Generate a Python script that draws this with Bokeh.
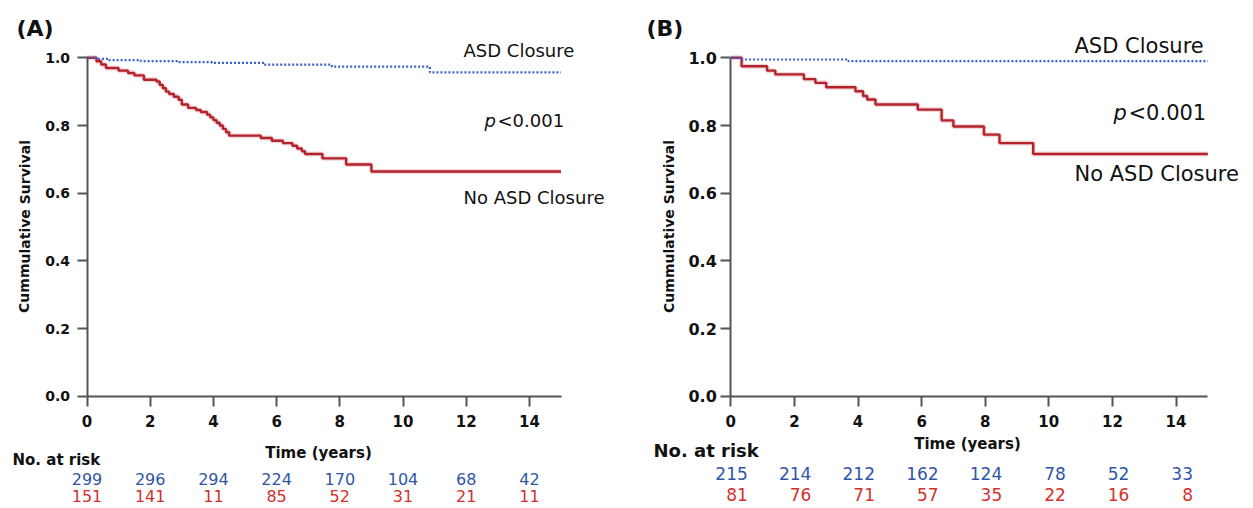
from bokeh.plotting import figure
from bokeh.layouts import row
from bokeh.models import Range1d, FixedTicker, Label, PrintfTickFormatter
from bokeh.embed import file_html
from bokeh.resources import INLINE

# ---------------- data ----------------
risk_times = [0, 2, 4, 6, 8, 10, 12, 14]

# Panel A
a_closure_t = [0, 0.3, 0.7, 1.7, 2.85, 3.95, 5.6, 7.75, 10.85, 15]
a_closure_s = [1.0, 0.997, 0.993, 0.99, 0.987, 0.985, 0.98, 0.974, 0.957, 0.957]
a_noclos_t = [0, 0.3, 0.45, 0.6, 1.0, 1.3, 1.5, 1.8, 2.2, 2.3, 2.4, 2.5, 2.6, 2.75,
              2.9, 3.0, 3.2, 3.45, 3.6, 3.8, 3.9, 4.0, 4.1, 4.2, 4.3, 4.4, 4.5, 5.5,
              5.85, 6.2, 6.5, 6.65, 6.8, 6.9, 7.45, 8.2, 9.0, 15]
a_noclos_s = [1.0, 0.99, 0.98, 0.97, 0.962, 0.955, 0.948, 0.935, 0.93, 0.92, 0.91, 0.90,
              0.893, 0.885, 0.876, 0.862, 0.852, 0.846, 0.84, 0.832, 0.824, 0.816, 0.808,
              0.80, 0.79, 0.78, 0.77, 0.763, 0.755, 0.748, 0.74, 0.732, 0.724, 0.716,
              0.703, 0.685, 0.664, 0.664]
a_risk_closure = ["299", "296", "294", "224", "170", "104", "68", "42"]
a_risk_noclos = ["151", "141", "11", "85", "52", "31", "21", "11"]

# Panel B
b_closure_t = [0, 0.3, 3.7, 15]
b_closure_s = [1.0, 0.995, 0.99, 0.99]
b_noclos_t = [0, 0.34, 1.14, 1.4, 2.3, 2.66, 3.0, 3.92, 4.16, 4.29, 4.55, 5.88, 6.63,
              7.0, 7.96, 8.45, 9.51, 15]
b_noclos_s = [1.0, 0.975, 0.962, 0.951, 0.937, 0.926, 0.913, 0.901, 0.887, 0.877, 0.862,
              0.847, 0.815, 0.797, 0.773, 0.748, 0.716, 0.716]
b_risk_closure = ["215", "214", "212", "162", "124", "78", "52", "33"]
b_risk_noclos = ["81", "76", "71", "57", "35", "22", "16", "8"]

txt = {"closure": "ASD Closure", "noclos": "No ASD Closure", "p": "p", "pval": "<0.001",
       "nar": "No. at risk", "xlab": "Time (years)", "ylab": "Cummulative Survival"}

FONT = "DejaVu Sans"
BLUE_LINE = "#3b5fc9"
RED_LINE = "#b3232b"
BLUE_TXT = "#2f56a6"
RED_TXT = "#d3302c"
AXIS = "#555555"
INK = "#111111"

H = 508
Y0_PAGE = 395.8     # page y of survival 0
Y_SCALE = 338.5     # px per unit survival


def ydat(py):
    return (Y0_PAGE - py) / Y_SCALE


def make_panel(tag, page_left, width, x0_page, k, t1, s1, t2, s2, risk1, risk2, c):
    def xdat(px):
        return (px - x0_page) / k

    p = figure(frame_width=width, frame_height=H,
               min_border_left=0, min_border_right=0,
               min_border_top=0, min_border_bottom=0,
               x_range=Range1d(xdat(page_left), xdat(page_left + width)),
               y_range=Range1d(ydat(H), ydat(0)),
               output_backend="svg", toolbar_location=None)
    p.outline_line_color = None
    p.xgrid.visible = False
    p.ygrid.visible = False

    for ax in (p.xaxis[0], p.yaxis[0]):
        ax.fixed_location = 0
        ax.axis_line_color = AXIS
        ax.axis_line_width = 2
        ax.major_tick_line_color = AXIS
        ax.major_tick_line_width = 2
        ax.major_tick_out = 10
        ax.major_tick_in = 0
        ax.minor_tick_line_color = None
        ax.major_label_text_font = FONT
        ax.major_label_text_font_style = "bold"
        ax.major_label_text_color = INK
    p.xaxis.ticker = FixedTicker(ticks=risk_times)
    p.yaxis.ticker = FixedTicker(ticks=[0, 0.2, 0.4, 0.6, 0.8, 1.0])
    p.yaxis.formatter = PrintfTickFormatter(format="%.1f")
    p.yaxis.bounds = (0, 1)
    p.xaxis.bounds = (0, 15)
    p.xaxis.major_label_text_font_size = "15px"
    p.xaxis.major_label_standoff = 9
    p.yaxis.major_label_text_font_size = c["ytick_fs"]
    p.yaxis.major_label_standoff = c["ytick_standoff"]

    # curves
    p.step(t2, s2, mode="after", line_color=RED_LINE, line_width=5, line_alpha=0.18)
    p.step(t2, s2, mode="after", line_color=RED_LINE, line_width=2.4)
    p.step(t1, s1, mode="after", line_color=BLUE_LINE, line_width=2.2, line_dash="2 2")

    def lab(px, py, text, size, style="normal", align="left", color=INK, angle=0, xo=0):
        p.add_layout(Label(x=xdat(px), y=ydat(py), text=text, x_offset=xo,
                           text_font=FONT, text_font_size=size, text_font_style=style,
                           text_align=align, text_baseline="middle",
                           text_color=color, angle=angle))

    lab(c["tag"][0], 28, tag, "22px", "bold")
    lab(c["closure"][0], c["closure"][1], txt["closure"], c["ann_fs"])
    lab(c["noclos"][0], c["noclos"][1], txt["noclos"], c["ann_fs"])
    lab(c["p"][0], c["p"][1], txt["p"], c["ann_fs"], "italic")
    lab(c["p"][0], c["p"][1], txt["pval"], c["ann_fs"], xo=c["p_off"])
    lab(c["xlab"][0], c["xlab"][1], txt["xlab"], "15px", "bold", "center")
    lab(c["ylab"][0], c["ylab"][1], txt["ylab"], "14px", "bold", "center", angle=1.5707963)
    lab(c["nar"][0], c["nar"][1], txt["nar"], c["nar_fs"], "bold")

    for t, a, b in zip(risk_times, risk1, risk2):
        px = x0_page + t * k
        lab(px, c["row1_y"], a, c["num_fs"], align=c["num_align"], color=BLUE_TXT, xo=c["num_off"])
        lab(px, c["row2_y"], b, c["num_fs"], align=c["num_align"], color=RED_TXT, xo=c["num_off"])
    return p


cfg_a = dict(ytick_fs="14px", ytick_standoff=7, ann_fs="18px",
             tag=(16,), closure=(463, 50), noclos=(463, 197), p=(484, 120), p_off=13,
             xlab=(318, 452), ylab=(24, 226), nar=(12, 459), nar_fs="15px",
             row1_y=478, row2_y=495, num_off=0, num_fs="16px", num_align="center")
cfg_b = dict(ytick_fs="16px", ytick_standoff=4, ann_fs="21px",
             tag=(646,), closure=(1074, 45), noclos=(1074, 173), p=(1113, 112), p_off=15,
             xlab=(967, 443), ylab=(668, 226), nar=(653, 450), nar_fs="18px",
             row1_y=473, row2_y=494, num_off=17, num_fs="17px", num_align="right")

pa = make_panel("(A)", 0, 616, 86.5, 31.6,
                a_closure_t, a_closure_s, a_noclos_t, a_noclos_s,
                a_risk_closure, a_risk_noclos, cfg_a)
pb = make_panel("(B)", 616, 637, 730.3, 31.8,
                b_closure_t, b_closure_s, b_noclos_t, b_noclos_s,
                b_risk_closure, b_risk_noclos, cfg_b)

layout = row(pa, pb)
open("out.html", "w").write(file_html(layout, INLINE))
